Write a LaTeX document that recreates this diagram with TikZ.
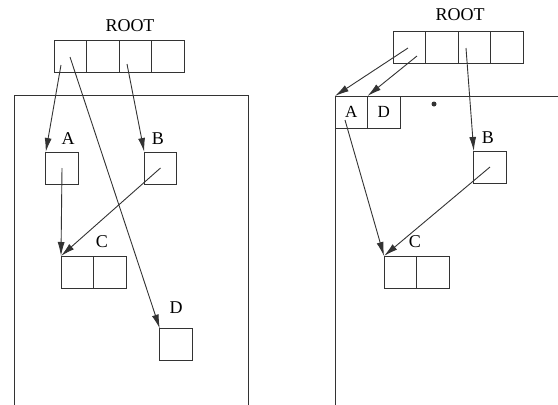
\documentclass[tikz,border=0pt]{standalone}
\usepackage{fontspec}
\setmainfont{Liberation Serif}
\usetikzlibrary{arrows.meta,positioning}

\begin{document}
\begin{tikzpicture}[x=1pt,y=-1pt, line width=0.9pt, draw=black!80,
  ptr/.style={-{Latex[length=14pt,width=7pt]}},
  cell/.style={draw=black!80,minimum width=32.5pt,minimum height=32pt,inner sep=0pt,outer sep=0pt,font=\fontsize{17}{17}\selectfont},
  lbl/.style={inner sep=0pt,font=\fontsize{18}{18}\selectfont}]
\useasboundingbox (0,0) rectangle (558,405);
% left: two separate records
\node[lbl] (lroot) at (130,26) {ROOT};
\node[cell] (lr1) at (70.25,56) {};
\node[cell,right=0pt of lr1] (lr2) {};
\node[cell,right=0pt of lr2] (lr3) {};
\node[cell,right=0pt of lr3] (lr4) {};
\draw (14,405) -- (14,95) -- (248,95) -- (248,405);
\node[cell] (lA) at (62,168) {};
\node[lbl] (lAl) at (68,139) {A};
\node[cell] (lB) at (160.5,168) {};
\node[lbl] (lBl) at (158,139) {B};
\node[cell] (lC1) at (77.25,272) {};
\node[cell,right=0pt of lC1] (lC2) {};
\node[lbl] (lCl) at (102,242) {C};
\node[cell] (lD) at (176,344.5) {};
\node[lbl] (lDl) at (176,308) {D};
\coordinate (la1) at (61,65);
\coordinate (la2) at (70,57);
\coordinate (lb) at (127,64);
\draw[ptr] (la1) -- (lA.north west);
\draw[ptr] (la2) -- (lD.north west);
\draw[ptr] (lb) -- (lB.north west);
\draw[ptr] (lA.center) -- (lC1.north west);
\draw[ptr] (lB.center) -- (lC1.north west);
% right: A and D packed together
\node[lbl] (rroot) at (460,15) {ROOT};
\node[cell] (rr1) at (409.25,47) {};
\node[cell,right=0pt of rr1] (rr2) {};
\node[cell,right=0pt of rr2] (rr3) {};
\node[cell,right=0pt of rr3] (rr4) {};
\draw (335,405) -- (335,96) -- (558,96);
\node[cell,anchor=north west] (rA) at (335,96) {A};
\node[cell,right=0pt of rA] (rD) {D};
\fill[black!80] (434,104) circle (2.5);
\node[cell] (rB) at (490,167) {};
\node[lbl] (rBl) at (488,138) {B};
\node[cell] (rC1) at (400.25,272) {};
\node[cell,right=0pt of rC1] (rC2) {};
\node[lbl] (rCl) at (415,242) {C};
\coordinate (ra1) at (408,48);
\coordinate (ra2) at (417,56);
\coordinate (rb) at (466,48);
\coordinate (ra3) at (345,120);
\draw[ptr] (ra1) -- (rA.north west);
\draw[ptr] (ra2) -- (rD.north west);
\draw[ptr] (rb) -- (rB.north west);
\draw[ptr] (ra3) -- (rC1.north west);
\draw[ptr] (rB.center) -- (rC1.north west);
\end{tikzpicture}
\end{document}
